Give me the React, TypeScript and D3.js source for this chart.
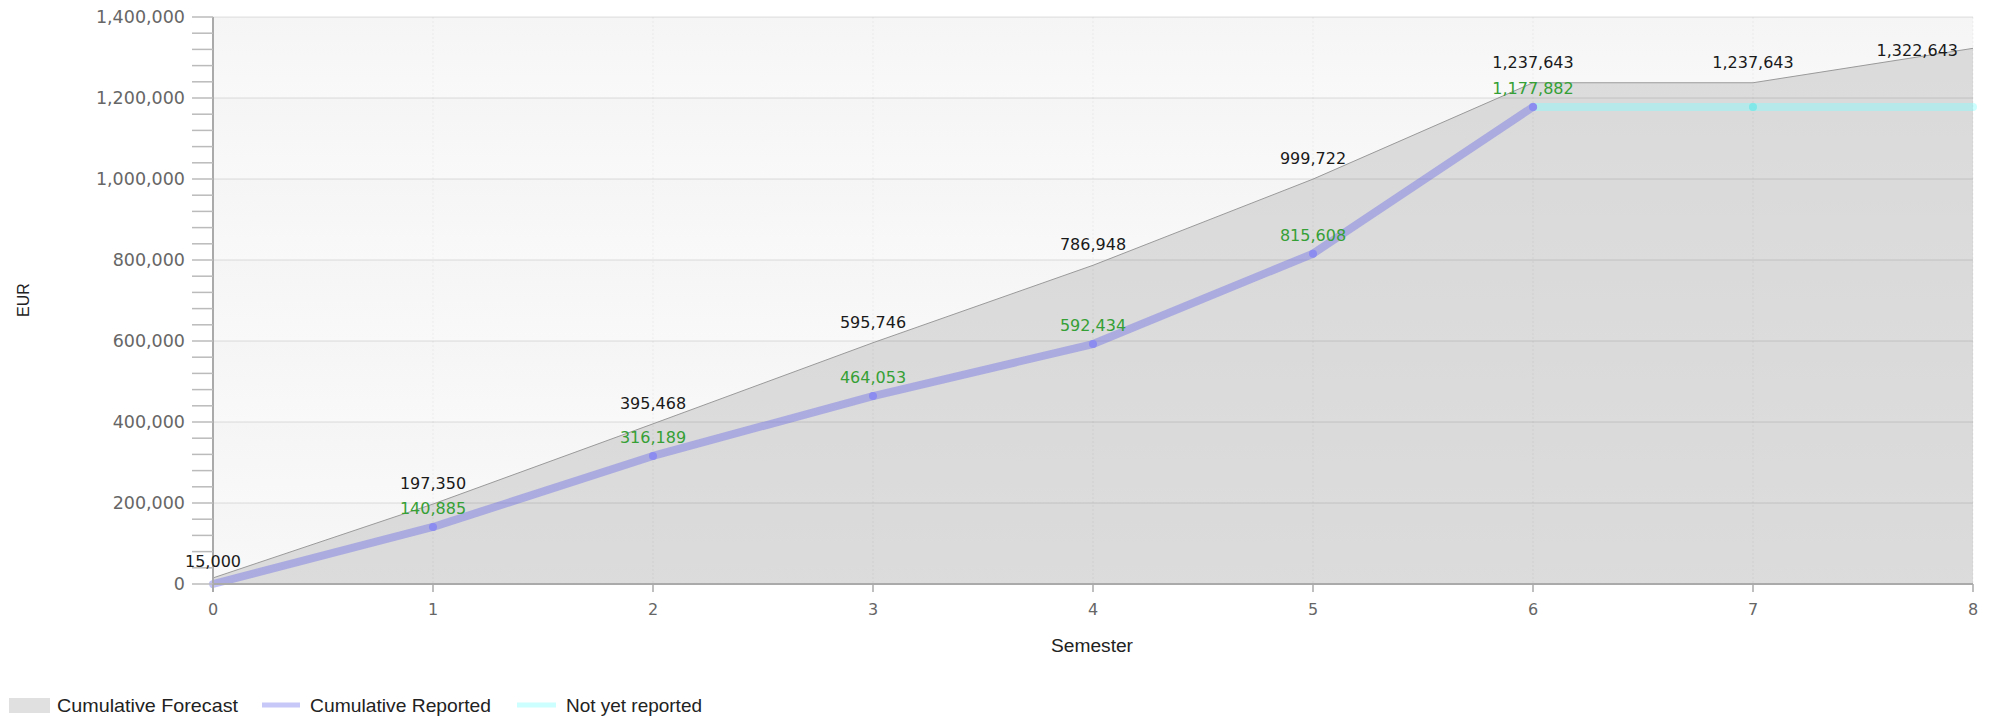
import React from "react";
import * as d3 from "d3";

const semesters = [0, 1, 2, 3, 4, 5, 6, 7, 8];
const forecast = [15000, 197350, 395468, 595746, 786948, 999722, 1237643, 1237643, 1322643];
const reportedX = [0, 1, 2, 3, 4, 5, 6];
const reported = [0, 140885, 316189, 464053, 592434, 815608, 1177882];
const reportedLabels = [null, "140,885", "316,189", "464,053", "592,434", "815,608", "1,177,882"];
const pendingX = [6, 7, 8];
const pending = [1177882, 1177882, 1177882];
const yTicks = [0, 200000, 400000, 600000, 800000, 1000000, 1200000, 1400000];
const legendItems = ["Cumulative Forecast", "Cumulative Reported", "Not yet reported"];

const W = 1991;
const H = 720;
const left = 213;
const right = 1973;
const top = 17;
const bottom = 584;

export default function App() {
  const x = d3.scaleLinear().domain([0, 8]).range([left, right]);
  const y = d3.scaleLinear().domain([0, 1400000]).range([bottom, top]);
  const fmt = d3.format(",");
  const minor = d3.range(0, 1400001, 40000);

  const area = d3
    .area<number>()
    .x((_, i) => x(semesters[i]))
    .y0(bottom)
    .y1((d) => y(d))(forecast);
  const topLine = d3
    .line<number>()
    .x((_, i) => x(semesters[i]))
    .y((d) => y(d))(forecast);
  const repLine = d3
    .line<number>()
    .x((_, i) => x(reportedX[i]))
    .y((d) => y(d))(reported);
  const penLine = d3
    .line<number>()
    .x((_, i) => x(pendingX[i]))
    .y((d) => y(d))(pending);

  const tickFont = "'DejaVu Sans', Verdana, sans-serif";
  const textFont = "'Liberation Sans', Arial, sans-serif";

  return (
    <svg width={W} height={H} style={{ position: "absolute", left: 0, top: 0, background: "#fff" }}>
      <defs>
        <linearGradient id="band" x1="0" y1="0" x2="0" y2="1">
          <stop offset="0" stopColor="#f5f5f5" />
          <stop offset="1" stopColor="#f9f9f9" />
        </linearGradient>
      </defs>
      {/* background bands */}
      {yTicks.slice(0, -1).map((t, i) => (
        <rect
          key={"b" + i}
          x={left}
          y={y(yTicks[i + 1])}
          width={right - left}
          height={y(t) - y(yTicks[i + 1])}
          fill="url(#band)"
        />
      ))}
      {/* area */}
      <path d={area || ""} fill="rgb(200,200,200)" fillOpacity={0.6} />
      {/* grid lines */}
      {yTicks.slice(1).map((t) => (
        <line key={"g" + t} x1={left} x2={right} y1={y(t)} y2={y(t)} stroke="#000" strokeOpacity={0.06} strokeWidth={2} />
      ))}
      {semesters.slice(1).map((s) => (
        <line
          key={"v" + s}
          x1={x(s)}
          x2={x(s)}
          y1={top}
          y2={bottom}
          stroke="#000"
          strokeOpacity={0.05}
          strokeWidth={1}
          strokeDasharray="2,2"
        />
      ))}
      <path d={topLine || ""} fill="none" stroke="#9a9a9a" strokeWidth={1} />
      {/* reported line */}
      <path d={penLine || ""} fill="none" stroke="rgb(128,255,255)" strokeOpacity={0.4} strokeWidth={8} strokeLinecap="round" />
      <path d={repLine || ""} fill="none" stroke="rgb(100,100,230)" strokeOpacity={0.4} strokeWidth={8} strokeLinecap="round" strokeLinejoin="round" />
      {reported.slice(1).map((v, i) => (
        <circle key={"rp" + i} cx={x(reportedX[i + 1])} cy={y(v)} r={4} fill="#8c8cf0" />
      ))}
      {pending.slice(1, 2).map((v, i) => (
        <circle key={"pp" + i} cx={x(pendingX[i + 1])} cy={y(v)} r={4} fill="#80e8e8" />
      ))}
      {/* axes */}
      <line x1={left} x2={left} y1={top} y2={bottom + 8} stroke="#aaa" strokeWidth={2} />
      <line x1={left} x2={right} y1={bottom} y2={bottom} stroke="#aaa" strokeWidth={2} />
      {minor.map((t) => (
        <line key={"m" + t} x1={left - 21} x2={left} y1={y(t)} y2={y(t)} stroke="#bbb" strokeWidth={1.5} />
      ))}
      {yTicks.map((t) => (
        <text key={"yt" + t} x={left - 28} y={y(t) + 6} textAnchor="end" fontFamily={tickFont} fontSize={17.5} fill="#666">
          {fmt(t)}
        </text>
      ))}
      {semesters.map((s) => (
        <g key={"xt" + s}>
          <line x1={x(s)} x2={x(s)} y1={bottom} y2={bottom + 8} stroke="#aaa" strokeWidth={1.5} />
          <text x={x(s)} y={bottom + 31} textAnchor="middle" fontFamily={tickFont} fontSize={16} fill="#666">
            {s}
          </text>
        </g>
      ))}
      {/* data labels */}
      {forecast.map((v, i) => {
        const px = x(semesters[i]);
        const py = y(v);
        const atEdge = px + 40 > right;
        return (
          <text
            key={"fl" + i}
            x={atEdge ? px - 15 : px}
            y={atEdge ? py + 8 : i === 0 ? py - 11 : py - 15}
            textAnchor={atEdge ? "end" : "middle"}
            fontFamily={tickFont}
            fontSize={16}
            fill="#1a1a1a"
          >
            {fmt(v)}
          </text>
        );
      })}
      {reported.map((v, i) =>
        reportedLabels[i] ? (
          <text
            key={"rl" + i}
            x={x(reportedX[i])}
            y={y(v) - 13}
            textAnchor="middle"
            fontFamily={tickFont}
            fontSize={16}
            fill="#35a035"
          >
            {reportedLabels[i]}
          </text>
        ) : null
      )}
      {/* axis titles */}
      <text
        transform={`translate(29,300) rotate(-90)`}
        textAnchor="middle"
        fontFamily={textFont}
        fontSize={16}
        fill="#222"
      >
        EUR
      </text>
      <text x={1092} y={652} textAnchor="middle" fontFamily={textFont} fontSize={18} fill="#222" textLength={82} lengthAdjust="spacingAndGlyphs">
        Semester
      </text>
      {/* legend */}
      <rect x={9} y={698} width={41} height={15} fill="#e0e0e0" />
      <text x={57} y={712} fontFamily={textFont} fontSize={19} fill="#222" textLength={181} lengthAdjust="spacingAndGlyphs">
        {legendItems[0]}
      </text>
      <line x1={262} x2={300} y1={705} y2={705} stroke="#c8c8f8" strokeWidth={5} />
      <text x={310} y={712} fontFamily={textFont} fontSize={19} fill="#222" textLength={181} lengthAdjust="spacingAndGlyphs">
        {legendItems[1]}
      </text>
      <line x1={517} x2={556} y1={705} y2={705} stroke="#ccffff" strokeWidth={5} />
      <text x={566} y={712} fontFamily={textFont} fontSize={19} fill="#222" textLength={136} lengthAdjust="spacingAndGlyphs">
        {legendItems[2]}
      </text>
    </svg>
  );
}
